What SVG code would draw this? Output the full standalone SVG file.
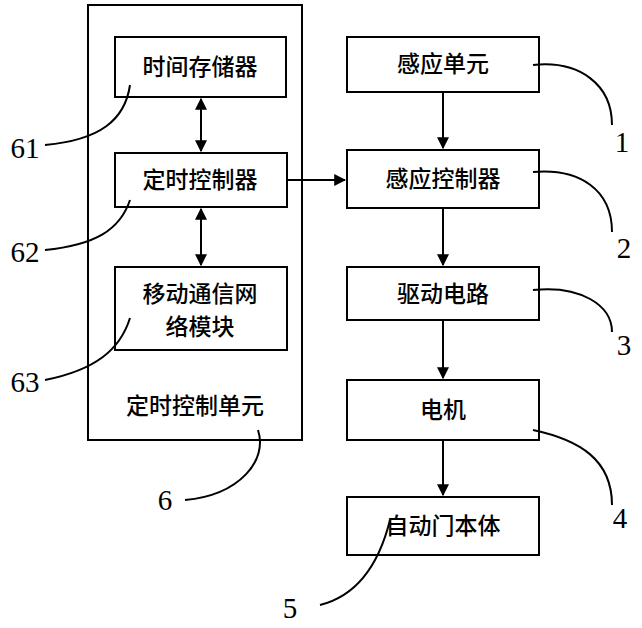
<svg xmlns="http://www.w3.org/2000/svg" width="642" height="628" viewBox="0 0 642 628">
<defs>
<style>
.b{fill:#fff;stroke:#000;stroke-width:2}
.l{fill:none;stroke:#000;stroke-width:2}
.t{font-family:"Noto Sans CJK SC","Liberation Serif",serif;font-size:23px;font-weight:500;text-anchor:middle}
.n{font-family:"Liberation Serif",serif;font-size:29px;text-anchor:middle}
</style>
<marker id="a" viewBox="0 0 10 10" refX="9" refY="5" markerWidth="6" markerHeight="6" orient="auto-start-reverse"><path d="M0,0L10,5L0,10z"/></marker>
</defs>
<g id="unit6"><rect class="b" x="88" y="5" width="214" height="435"/><text class="t" x="195" y="414">定时控制单元</text></g>
<g id="n61"><rect class="b" x="115" y="37" width="171" height="60"/><text class="t" x="200" y="75">时间存储器</text></g>
<g id="n62"><rect class="b" x="115" y="153" width="172" height="54"/><text class="t" x="200" y="188">定时控制器</text></g>
<g id="n63"><rect class="b" x="115" y="267" width="172" height="83"/><text class="t" x="200" y="302">移动通信网</text><text class="t" x="200" y="335">络模块</text></g>
<g id="n1"><rect class="b" x="347" y="37" width="192" height="55"/><text class="t" x="443" y="72">感应单元</text></g>
<g id="n2"><rect class="b" x="347" y="150" width="192" height="58"/><text class="t" x="443" y="187">感应控制器</text></g>
<g id="n3"><rect class="b" x="347" y="267" width="192" height="53"/><text class="t" x="443" y="302">驱动电路</text></g>
<g id="n4"><rect class="b" x="347" y="380" width="192" height="60"/><text class="t" x="443" y="418">电机</text></g>
<g id="n5"><rect class="b" x="347" y="497" width="192" height="58"/><text class="t" x="443" y="534">自动门本体</text></g>
<g id="connectors">
<line class="l" x1="201" y1="99" x2="201" y2="151" marker-start="url(#a)" marker-end="url(#a)"/>
<line class="l" x1="201" y1="209" x2="201" y2="265" marker-start="url(#a)" marker-end="url(#a)"/>
<line class="l" x1="287" y1="180" x2="345" y2="180" marker-end="url(#a)"/>
<line class="l" x1="443" y1="92" x2="443" y2="148" marker-end="url(#a)"/>
<line class="l" x1="443" y1="208" x2="443" y2="265" marker-end="url(#a)"/>
<line class="l" x1="443" y1="320" x2="443" y2="378" marker-end="url(#a)"/>
<line class="l" x1="443" y1="440" x2="443" y2="495" marker-end="url(#a)"/>
<path class="l" d="M533,65 C580,60 612,85 612,125"/>
<path class="l" d="M533,172 C580,168 612,190 612,232"/>
<path class="l" d="M533,290 C580,285 612,305 612,332"/>
<path class="l" d="M533,430 C580,440 612,460 612,505"/>
<path class="l" d="M390,520 C380,560 360,595 320,605"/>
<path class="l" d="M130,85 C125,120 100,140 45,145"/>
<path class="l" d="M130,200 C120,230 95,245 45,250"/>
<path class="l" d="M130,318 C120,350 95,370 45,380"/>
<path class="l" d="M258,430 C268,460 240,495 185,500"/>
</g>
<g id="labels">
<text class="n" x="622" y="152">1</text>
<text class="n" x="624" y="258">2</text>
<text class="n" x="624" y="355">3</text>
<text class="n" x="620" y="528">4</text>
<text class="n" x="290" y="618">5</text>
<text class="n" x="25" y="158">61</text>
<text class="n" x="25" y="262">62</text>
<text class="n" x="25" y="392">63</text>
<text class="n" x="165" y="510">6</text>
</g>
</svg>
